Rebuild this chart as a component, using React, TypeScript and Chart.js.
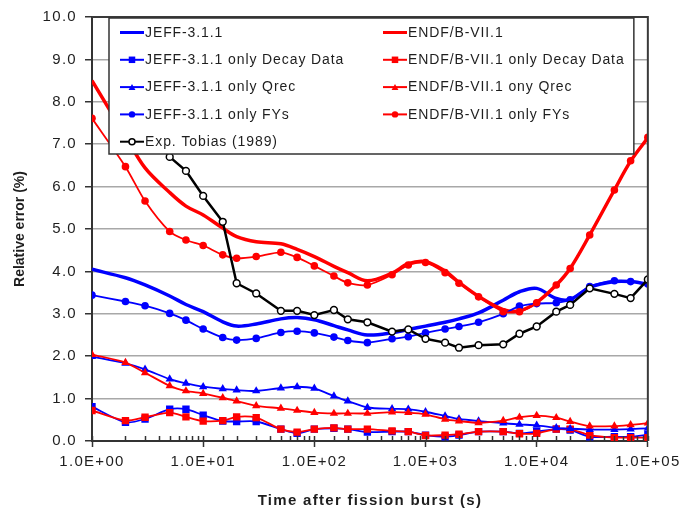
import React, { useEffect, useRef } from 'react';
import { Chart, registerables } from 'chart.js';

Chart.register(...registerables);

// Cooling times after the fission burst (s)
const timePoints = [1, 2, 3, 5, 7, 10, 15, 20, 30, 50, 70, 100, 150, 200, 300, 500, 700, 1000, 1500, 2000, 3000, 5000, 7000, 10000, 15000, 20000, 30000, 50000, 70000, 100000];

// Relative uncertainty of decay heat (%)
const jeffTotal = [4.05, 3.85, 3.68, 3.42, 3.22, 3.05, 2.81, 2.71, 2.76, 2.88, 2.91, 2.86, 2.72, 2.62, 2.5, 2.55, 2.63, 2.71, 2.8, 2.88, 3.02, 3.32, 3.52, 3.6, 3.36, 3.34, 3.62, 3.76, 3.76, 3.7];
const jeffDecay = [0.81, 0.44, 0.52, 0.75, 0.75, 0.61, 0.47, 0.46, 0.46, 0.28, 0.18, 0.28, 0.3, 0.28, 0.21, 0.22, 0.22, 0.14, 0.1, 0.14, 0.22, 0.22, 0.18, 0.22, 0.28, 0.26, 0.1, 0.1, 0.1, 0.15];
const jeffQrec = [1.99, 1.83, 1.69, 1.46, 1.36, 1.28, 1.23, 1.2, 1.18, 1.25, 1.28, 1.24, 1.06, 0.94, 0.79, 0.76, 0.75, 0.69, 0.59, 0.52, 0.47, 0.42, 0.39, 0.37, 0.31, 0.29, 0.27, 0.27, 0.28, 0.3];
const jeffFY = [3.44, 3.29, 3.19, 3.01, 2.85, 2.64, 2.44, 2.38, 2.42, 2.56, 2.59, 2.55, 2.45, 2.37, 2.32, 2.41, 2.46, 2.55, 2.64, 2.7, 2.8, 3.0, 3.18, 3.24, 3.26, 3.33, 3.64, 3.78, 3.76, 3.7];
const endfTotal = [8.5, 7.19, 6.44, 5.86, 5.54, 5.33, 5.02, 4.82, 4.7, 4.65, 4.52, 4.35, 4.12, 3.97, 3.78, 3.96, 4.18, 4.23, 4.01, 3.74, 3.41, 3.1, 3.07, 3.27, 3.68, 4.07, 4.86, 5.92, 6.6, 7.15];
const endfDecay = [0.72, 0.48, 0.56, 0.67, 0.57, 0.47, 0.48, 0.57, 0.55, 0.28, 0.21, 0.28, 0.31, 0.28, 0.28, 0.24, 0.22, 0.13, 0.14, 0.16, 0.22, 0.22, 0.17, 0.18, 0.28, 0.28, 0.14, 0.08, 0.08, 0.08];
const endfQrec = [2.04, 1.85, 1.61, 1.3, 1.18, 1.12, 1.02, 0.94, 0.83, 0.77, 0.72, 0.67, 0.65, 0.65, 0.65, 0.68, 0.67, 0.63, 0.51, 0.47, 0.43, 0.48, 0.56, 0.6, 0.55, 0.46, 0.35, 0.35, 0.38, 0.42];
const endfFY = [7.61, 6.47, 5.66, 4.94, 4.74, 4.61, 4.39, 4.31, 4.35, 4.45, 4.33, 4.13, 3.89, 3.73, 3.68, 3.92, 4.15, 4.21, 3.97, 3.72, 3.4, 3.05, 3.05, 3.26, 3.68, 4.07, 4.86, 5.92, 6.61, 7.16];
const tobiasExp = [null, null, 7.35, 6.7, 6.37, 5.78, 5.17, 3.72, 3.48, 3.07, 3.07, 2.97, 3.09, 2.87, 2.8, 2.58, 2.63, 2.41, 2.32, 2.2, 2.26, 2.28, 2.53, 2.7, 3.05, 3.21, 3.6, 3.47, 3.37, 3.81];

const xTickLabels = ['1.0E+00', '1.0E+01', '1.0E+02', '1.0E+03', '1.0E+04', '1.0E+05'];
const xTitle = 'Time after fission burst (s)';
const yTitle = 'Relative error (%)';

const FONT = '"Liberation Sans", Arial, Helvetica, sans-serif';
const BLUE = '#0000ff';
const RED = '#ff0000';
const TEXT = '#1e1e1e';

type Marker = 'none' | 'rect' | 'triangle' | 'circle' | 'open';

interface SeriesDef {
  label: string;
  values: (number | null)[];
  color: string;
  width: number;
  marker: Marker;
  radius: number;
  tension: number;
}

const S = {
  jeff: { label: 'JEFF-3.1.1', values: jeffTotal, color: BLUE, width: 3.5, marker: 'none', radius: 0, tension: 0.35 } as SeriesDef,
  jeffDecay: { label: 'JEFF-3.1.1 only Decay Data', values: jeffDecay, color: BLUE, width: 1.8, marker: 'rect', radius: 5.2, tension: 0.25 } as SeriesDef,
  jeffQrec: { label: 'JEFF-3.1.1 only Qrec', values: jeffQrec, color: BLUE, width: 1.8, marker: 'triangle', radius: 4.8, tension: 0.25 } as SeriesDef,
  jeffFY: { label: 'JEFF-3.1.1 only FYs', values: jeffFY, color: BLUE, width: 1.8, marker: 'circle', radius: 3.8, tension: 0.25 } as SeriesDef,
  tobias: { label: 'Exp. Tobias (1989)', values: tobiasExp, color: '#000000', width: 2.5, marker: 'open', radius: 3.4, tension: 0 } as SeriesDef,
  endf: { label: 'ENDF/B-VII.1', values: endfTotal, color: RED, width: 3.5, marker: 'none', radius: 0, tension: 0.35 } as SeriesDef,
  endfDecay: { label: 'ENDF/B-VII.1 only Decay Data', values: endfDecay, color: RED, width: 1.8, marker: 'rect', radius: 5.2, tension: 0.25 } as SeriesDef,
  endfQrec: { label: 'ENDF/B-VII.1 ony Qrec', values: endfQrec, color: RED, width: 1.8, marker: 'triangle', radius: 4.8, tension: 0.25 } as SeriesDef,
  endfFY: { label: 'ENDF/B-VII.1 only FYs', values: endfFY, color: RED, width: 1.8, marker: 'circle', radius: 3.8, tension: 0.25 } as SeriesDef,
};

// First entry is painted last (on top)
const drawOrder: SeriesDef[] = [S.tobias, S.endfFY, S.jeffFY, S.endfQrec, S.jeffQrec, S.endfDecay, S.jeffDecay, S.endf, S.jeff];
const legendColumns: SeriesDef[][] = [
  [S.jeff, S.jeffDecay, S.jeffQrec, S.jeffFY, S.tobias],
  [S.endf, S.endfDecay, S.endfQrec, S.endfFY],
];

const isDecade = (v: number) => {
  const l = Math.log10(v);
  return Math.abs(l - Math.round(l)) < 1e-9;
};

function drawMarker(ctx: CanvasRenderingContext2D, s: SeriesDef, x: number, y: number, r: number) {
  if (s.marker === 'none') return;
  ctx.beginPath();
  if (s.marker === 'rect') {
    const h = r * Math.SQRT1_2;
    ctx.rect(x - h, y - h, 2 * h, 2 * h);
  } else if (s.marker === 'triangle') {
    const a = Math.PI / 2;
    for (let k = 0; k < 3; k++) {
      const ang = -a + (k * 2 * Math.PI) / 3;
      const px = x + Math.cos(ang) * r;
      const py = y + Math.sin(ang) * r + r * 0.25;
      if (k === 0) ctx.moveTo(px, py);
      else ctx.lineTo(px, py);
    }
    ctx.closePath();
  } else {
    ctx.arc(x, y, r, 0, Math.PI * 2);
  }
  if (s.marker === 'open') {
    ctx.fillStyle = '#ffffff';
    ctx.fill();
    ctx.lineWidth = 1.5;
    ctx.strokeStyle = s.color;
    ctx.stroke();
  } else {
    ctx.fillStyle = s.color;
    ctx.fill();
  }
}

const framePlugin = {
  id: 'frameAndLegend',
  beforeDraw(chart: any) {
    (chart.ctx as any).letterSpacing = '1.3px';
  },
  afterDraw(chart: any) {
    const ctx: CanvasRenderingContext2D = chart.ctx;
    const area = chart.chartArea;
    const xs = chart.scales.x;
    ctx.save();

    // minor tick marks pointing into the plot area
    ctx.strokeStyle = '#333';
    ctx.lineWidth = 1.5;
    for (const t of xs.ticks) {
      const px = Math.round(xs.getPixelForValue(t.value)) + 0.5;
      ctx.beginPath();
      ctx.moveTo(px, area.bottom);
      ctx.lineTo(px, area.bottom - 5);
      ctx.stroke();
    }

    // top and right edges of the plot frame
    ctx.strokeStyle = '#3a3a3a';
    ctx.lineWidth = 2;
    ctx.beginPath();
    ctx.moveTo(area.left, area.top);
    ctx.lineTo(area.right, area.top);
    ctx.lineTo(area.right, area.bottom);
    ctx.stroke();

    // vertical axis title
    (ctx as any).letterSpacing = '0px';
    ctx.save();
    ctx.translate(20, (area.top + area.bottom) / 2);
    ctx.rotate(-Math.PI / 2);
    ctx.font = `bold 14px ${FONT}`;
    ctx.fillStyle = TEXT;
    ctx.textAlign = 'center';
    ctx.textBaseline = 'middle';
    ctx.fillText(yTitle, 0, 0);
    ctx.restore();

    // legend box inside the plot
    const bl = area.left + 17;
    const bt = area.top + 1;
    const br = area.right - 14;
    const bb = area.top + 137;
    ctx.fillStyle = '#ffffff';
    ctx.fillRect(bl, bt, br - bl, bb - bt);
    ctx.strokeStyle = '#333';
    ctx.lineWidth = 1.5;
    ctx.strokeRect(bl, bt, br - bl, bb - bt);

    (ctx as any).letterSpacing = '0.9px';
    ctx.font = `14px ${FONT}`;
    ctx.textAlign = 'left';
    ctx.textBaseline = 'middle';
    const colX = [bl + 11, bl + 274];
    legendColumns.forEach((col, ci) => {
      col.forEach((s, ri) => {
        const y = bt + 14.5 + ri * 27.3;
        const x0 = colX[ci];
        ctx.strokeStyle = s.color;
        ctx.lineWidth = s.marker === 'none' ? 3 : 2;
        ctx.beginPath();
        ctx.moveTo(x0, y);
        ctx.lineTo(x0 + 24, y);
        ctx.stroke();
        drawMarker(ctx, s, x0 + 12, y, s.marker === 'open' ? 3 : s.marker === 'triangle' ? 4 : s.marker === 'rect' ? 4.6 : 3.2);
        ctx.fillStyle = TEXT;
        ctx.fillText(s.label, x0 + 25, y + 0.5);
      });
    });
    ctx.restore();
  },
};

export default function App() {
  const canvasRef = useRef<HTMLCanvasElement | null>(null);

  useEffect(() => {
    const canvas = canvasRef.current;
    if (!canvas) return;

    const datasets = drawOrder.map((s) => ({
      label: s.label,
      data: timePoints.map((t, i) => ({ x: t, y: s.values[i] })),
      borderColor: s.color,
      backgroundColor: s.color,
      borderWidth: s.width,
      tension: s.tension,
      pointRadius: s.radius,
      pointStyle: s.marker === 'rect' ? 'rect' : s.marker === 'triangle' ? 'triangle' : 'circle',
      pointBackgroundColor: s.marker === 'open' ? '#ffffff' : s.color,
      pointBorderColor: s.color,
      pointBorderWidth: s.marker === 'open' ? 1.5 : 0,
      spanGaps: false,
      fill: false,
    }));

    const chart = new Chart(canvas, {
      type: 'line',
      data: { datasets } as any,
      options: {
        animation: false,
        responsive: false,
        devicePixelRatio: 1,
        layout: { padding: { left: 0, top: 17, right: 32, bottom: 0 } },
        plugins: { legend: { display: false }, tooltip: { enabled: false } },
        scales: {
          x: {
            type: 'logarithmic',
            min: 1,
            max: 100000,
            afterFit: (s: any) => {
              s.height = 69;
            },
            grid: {
              drawOnChartArea: false,
              drawTicks: true,
              tickLength: 6,
              tickWidth: 1.5,
              tickColor: (c: any) => (c.tick && isDecade(c.tick.value) ? '#333' : 'rgba(0,0,0,0)'),
            },
            border: { display: true, color: '#333', width: 2 },
            ticks: {
              autoSkip: false,
              maxRotation: 0,
              minRotation: 0,
              padding: 6,
              color: TEXT,
              font: { family: FONT, size: 15 },
              callback: (v: any) => (isDecade(Number(v)) ? xTickLabels[Math.round(Math.log10(Number(v)))] : ''),
            },
            title: {
              display: true,
              text: xTitle,
              color: TEXT,
              font: { family: FONT, size: 15, weight: 'bold' },
              padding: { top: 0, bottom: 0 },
            },
          },
          y: {
            min: 0,
            max: 10,
            afterFit: (s: any) => {
              s.width = 92;
            },
            grid: {
              color: '#a8a8a8',
              lineWidth: 1.5,
              tickLength: 7,
              tickColor: '#333',
              tickWidth: 1.5,
            },
            border: { display: true, color: '#333', width: 2 },
            ticks: {
              stepSize: 1,
              padding: 8,
              color: TEXT,
              font: { family: FONT, size: 15 },
              callback: (v: any) => Number(v).toFixed(1),
            },
          },
        },
      } as any,
      plugins: [framePlugin],
    });

    return () => chart.destroy();
  }, []);

  return (
    <div style={{ position: 'absolute', left: 0, top: 0, width: 682, height: 510, background: '#fff' }}>
      <canvas ref={canvasRef} width={682} height={510} style={{ display: 'block' }} />
    </div>
  );
}
